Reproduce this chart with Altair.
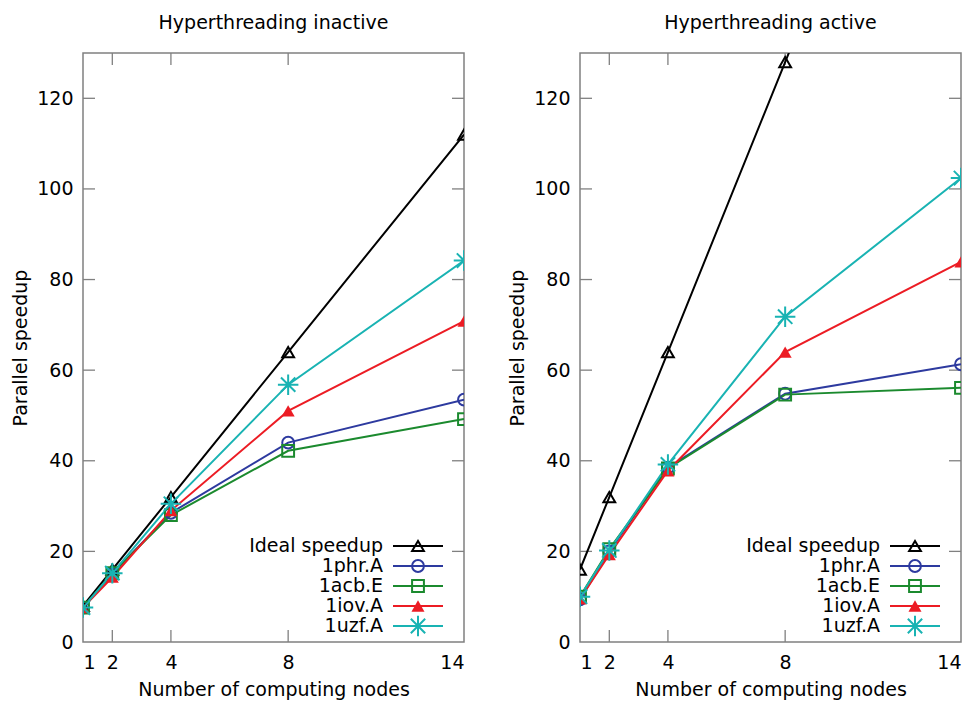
import altair as alt
import pandas as pd

nodes = [1, 2, 4, 8, 14]
series_names = ["Ideal speedup", "1phr.A", "1acb.E", "1iov.A", "1uzf.A"]

# Hyperthreading inactive
ideal_inactive = [8, 16, 32, 64, 112]
phr_inactive = [7.6, 15.0, 28.5, 44.0, 53.5]
acb_inactive = [7.6, 15.2, 28.0, 42.2, 49.2]
iov_inactive = [7.6, 14.3, 29.0, 51.0, 70.8]
uzf_inactive = [7.6, 15.2, 30.5, 56.8, 84.2]

# Hyperthreading active
ideal_active = [16, 32, 64, 128, 224]
phr_active = [9.4, 20.0, 38.5, 54.8, 61.3]
acb_active = [10.0, 20.5, 38.3, 54.6, 56.1]
iov_active = [9.5, 19.3, 37.8, 64.0, 83.9]
uzf_active = [10.0, 20.2, 39.2, 71.8, 102.4]

y_tick_values = [0, 20, 40, 60, 80, 100, 120]
x_tick_values = [1, 2, 4, 8, 14]
inner_y_ticks = [20, 40, 60, 80, 100, 120]
inner_x_ticks = [2, 4, 8]

colors = ["#000000", "#2d3a9f", "#1b8a2e", "#ec1c24", "#19b3b3"]
ASTERISK = "M-1,0L1,0M0,-1L0,1M-0.7,-0.7L0.7,0.7M-0.7,0.7L0.7,-0.7"
shapes = ["triangle-up", "circle", "square", "triangle-up", ASTERISK]

FONT = "DejaVu Sans"
FS = 19
W, H = 381, 589
TICK = 12
FRAME = "#808080"

color_scale = alt.Scale(domain=series_names, range=colors)
shape_scale = alt.Scale(domain=series_names, range=shapes)

OPEN_SERIES = ["Ideal speedup", "1phr.A", "1acb.E"]


def long_df(cols):
    rows = []
    for name, vals in zip(series_names, cols):
        for n, v in zip(nodes, vals):
            rows.append({"nodes": n, "speedup": v, "series": name})
    return pd.DataFrame(rows)


def marker_layers(base, x, y):
    enc = dict(
        x=x, y=y,
        color=alt.Color("series:N", scale=color_scale, legend=None),
        shape=alt.Shape("series:N", scale=shape_scale, legend=None),
    )
    is_open = alt.FieldOneOfPredicate(field="series", oneOf=OPEN_SERIES)
    p_open = base.transform_filter(is_open).mark_point(
        filled=False, size=140, strokeWidth=2, clip=True, opacity=1).encode(**enc)
    p_fill = base.transform_filter(alt.datum.series == "1iov.A").mark_point(
        filled=True, size=170, clip=True, opacity=1).encode(**enc)
    p_star = base.transform_filter(alt.datum.series == "1uzf.A").mark_point(
        filled=False, size=420, strokeWidth=2, clip=True, opacity=1).encode(**enc)
    return [p_open, p_fill, p_star]


def panel(title, cols):
    df = long_df(cols)
    X = alt.X(
        "nodes:Q",
        scale=alt.Scale(domain=[1, 14], nice=False, zero=False),
        axis=alt.Axis(
            values=x_tick_values, ticks=False, domain=False, grid=False,
            labelFontSize=FS, labelFont=FONT, labelColor="#000000",
            labelPadding=11, title="Number of computing nodes",
            titleFontSize=FS, titleFont=FONT, titleFontWeight="normal",
            titleColor="#000000", titlePadding=8,
        ),
    )
    Y = alt.Y(
        "speedup:Q",
        scale=alt.Scale(domain=[0, 130], nice=False),
        axis=alt.Axis(
            values=y_tick_values, ticks=False, domain=False, grid=False,
            labelFontSize=FS, labelFont=FONT, labelColor="#000000",
            labelPadding=10, title="Parallel speedup",
            titleFontSize=FS, titleFont=FONT, titleFontWeight="normal",
            titleColor="#000000", titlePadding=6,
        ),
    )
    base = alt.Chart(df)
    lines = base.mark_line(strokeWidth=2, clip=True).encode(
        x=X, y=Y,
        color=alt.Color("series:N", scale=color_scale, legend=None),
        detail="series:N",
    )
    pts = marker_layers(base, "nodes:Q", "speedup:Q")

    ydf = pd.DataFrame({"v": inner_y_ticks})
    xdf = pd.DataFrame({"v": inner_x_ticks})
    yt_left = alt.Chart(ydf).mark_rule(color=FRAME, strokeWidth=1.3).encode(
        y="v:Q", x=alt.value(0), x2=alt.value(TICK))
    yt_right = alt.Chart(ydf).mark_rule(color=FRAME, strokeWidth=1.3).encode(
        y="v:Q", x=alt.value(W - TICK), x2=alt.value(W))
    xt_bot = alt.Chart(xdf).mark_rule(color=FRAME, strokeWidth=1.3).encode(
        x="v:Q", y=alt.value(H), y2=alt.value(H - TICK))
    xt_top = alt.Chart(xdf).mark_rule(color=FRAME, strokeWidth=1.3).encode(
        x="v:Q", y=alt.value(0), y2=alt.value(TICK))
    main = alt.layer(yt_left, yt_right, xt_bot, xt_top, lines, *pts)

    ldf = pd.DataFrame({"series": series_names})
    LY = alt.Y("series:N", axis=None,
               scale=alt.Scale(type="point", domain=series_names,
                               range=[493, 573], padding=0))
    lbase = alt.Chart(ldf)
    ltext = lbase.mark_text(align="right", baseline="middle", fontSize=FS,
                            font=FONT, color="#000000").encode(
        x=alt.value(300), y=LY, text="series:N")
    lrule = lbase.mark_rule(strokeWidth=2).encode(
        x=alt.value(310), x2=alt.value(360), y=LY,
        color=alt.Color("series:N", scale=color_scale, legend=None))
    lpts = marker_layers(lbase, alt.value(335), LY)
    legend = alt.layer(ltext, lrule, *lpts)

    return alt.layer(main, legend).resolve_scale(y="independent").properties(
        width=W, height=H,
        title=alt.TitleParams(title, fontSize=FS, font=FONT, fontWeight="normal",
                              color="#000000", anchor="middle", offset=19),
    )


left = panel("Hyperthreading inactive",
             [ideal_inactive, phr_inactive, acb_inactive, iov_inactive, uzf_inactive])
right = panel("Hyperthreading active",
              [ideal_active, phr_active, acb_active, iov_active, uzf_active])

chart = alt.hconcat(left, right, spacing=41).properties(
    padding={"left": 2, "top": 5, "right": 0, "bottom": 0}
).configure_view(stroke=FRAME, strokeWidth=1.5)

chart.save("out.html", embed_options={"renderer": "svg", "actions": False})
